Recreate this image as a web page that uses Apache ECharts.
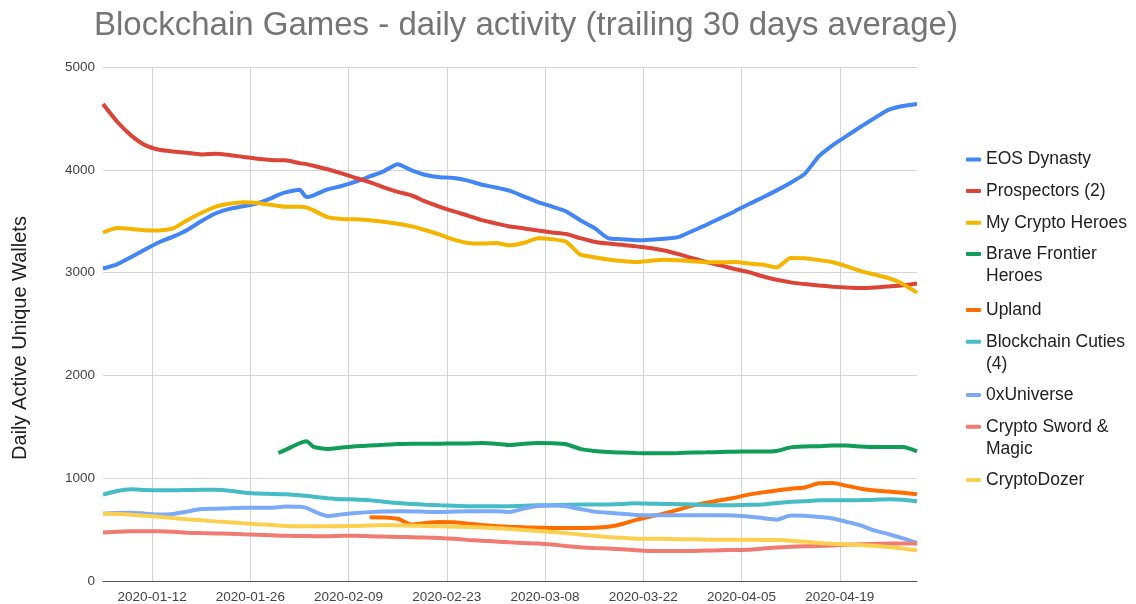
<!DOCTYPE html>
<html>
<head>
<meta charset="utf-8">
<script src="https://cdn.jsdelivr.net/npm/echarts@6/dist/echarts.min.js"></script>
<style>
html,body{margin:0;padding:0;background:#fff;}
#chart{width:1136px;height:604px;}
</style>
</head>
<body>
<div id="chart"></div>
<script>
// ---- data ----
const startDate = '2020-01-05';
const endDate = '2020-04-30';
const tickLabels = ['2020-01-12','2020-01-26','2020-02-09','2020-02-23','2020-03-08','2020-03-22','2020-04-05','2020-04-19'];
// sample days (offset in days from startDate)
const sampleDays = [0,2,4,6,8,10,12,14,16,18,20,22,24,25,26,28,29,30,32,34,36,38,40,42,44,46,48,50,52,54,56,58,60,62,64,66,68,70,72,74,76,78,80,82,84,86,88,90,92,94,96,98,100,102,104,106,108,110,112,114,116];

const eosDynasty = [3040,3080,3150,3225,3295,3350,3415,3500,3575,3620,3645,3675,3725,3757,3780,3805,3735,3752,3810,3842,3885,3935,3985,4055,3995,3950,3928,3920,3895,3855,3828,3795,3740,3685,3642,3595,3510,3435,3335,3325,3315,3320,3330,3345,3405,3465,3530,3595,3665,3730,3800,3875,3960,4130,4240,4330,4420,4505,4585,4620,4640];
const prospectors = [4640,4470,4335,4240,4195,4178,4165,4150,4157,4145,4125,4108,4095,4093,4092,4065,4055,4040,4005,3965,3920,3880,3830,3785,3750,3690,3640,3595,3555,3510,3478,3448,3430,3410,3390,3375,3335,3300,3282,3272,3255,3240,3215,3180,3140,3102,3070,3035,3005,2965,2930,2905,2888,2875,2863,2855,2850,2855,2865,2876,2893];
const myCryptoHeroes = [3390,3435,3425,3412,3410,3430,3510,3580,3640,3670,3685,3678,3660,3648,3640,3640,3635,3605,3540,3522,3518,3510,3495,3475,3450,3412,3370,3320,3288,3282,3288,3265,3290,3335,3325,3300,3175,3150,3128,3112,3103,3115,3125,3120,3110,3100,3100,3103,3088,3078,3050,3142,3140,3122,3100,3060,3015,2980,2945,2890,2805];
const braveFrontier = [null,null,null,null,null,null,null,null,null,null,null,null,null,1245,1275,1340,1360,1305,1285,1298,1310,1318,1325,1332,1336,1336,1336,1337,1338,1342,1335,1322,1335,1342,1340,1330,1285,1265,1255,1250,1245,1243,1242,1245,1250,1252,1255,1258,1260,1260,1265,1300,1308,1312,1318,1318,1308,1303,1304,1303,1262];
const upland = [null,null,null,null,null,null,null,null,null,null,null,null,null,null,null,null,null,null,null,null,null,620,618,605,550,565,575,572,558,545,535,528,522,518,516,515,516,518,528,555,595,628,658,695,733,762,785,810,840,862,880,898,910,950,953,925,898,880,870,858,843];
const blockchainCuties = [840,875,892,885,882,882,885,888,887,878,862,850,847,845,843,835,830,820,806,796,793,786,772,758,750,742,736,732,728,727,727,728,732,736,738,742,743,743,745,750,756,752,750,747,745,740,737,738,741,745,758,770,776,785,785,785,787,790,795,790,775];
const oxUniverse = [655,662,665,655,646,652,675,700,704,708,713,712,712,718,725,722,712,680,632,648,662,670,675,678,677,673,671,675,678,678,678,672,705,730,735,727,700,675,663,655,642,640,640,640,639,639,639,638,628,612,597,638,635,623,608,575,540,490,455,415,370];
const cryptoSwordMagic = [471,480,483,483,483,478,470,466,463,460,455,451,445,442,440,437,437,436,435,440,440,436,432,429,426,422,418,410,400,392,385,376,370,365,355,340,328,320,315,310,300,293,292,292,293,296,299,302,305,315,325,332,337,340,346,352,357,361,364,364,364];
const cryptoDozer = [655,652,645,635,624,612,600,590,580,572,562,553,545,540,536,532,532,532,532,533,535,540,542,542,538,535,532,528,525,520,514,507,497,487,477,465,452,440,428,420,412,412,410,407,405,403,402,402,402,400,398,392,382,370,362,356,350,342,330,315,299];

const seriesNames = ['EOS Dynasty','Prospectors (2)','My Crypto Heroes','Brave Frontier','Upland','Blockchain Cuties','0xUniverse','Crypto Sword &','CryptoDozer'];
const secondLines = ['', '', '', 'Heroes', '', '(4)', '', 'Magic', ''];
const seriesValues = [eosDynasty, prospectors, myCryptoHeroes, braveFrontier, upland, blockchainCuties, oxUniverse, cryptoSwordMagic, cryptoDozer];
const colors = ['#4285F4','#DB4437','#F4B400','#0F9D58','#FF6D01','#46BDC6','#7BAAF7','#F07B72','#FCD04F'];

// ---- build ----
const DAY = 86400000;
const t0 = Date.parse(startDate + 'T00:00:00Z');
const t1 = Date.parse(endDate + 'T00:00:00Z');
const fmt = t => new Date(t).toISOString().slice(0, 10);
const allDates = [];
for (let t = t0; t <= t1; t += DAY) allDates.push(fmt(t));
const sampleDates = sampleDays.map(d => fmt(t0 + d * DAY));

const FONT = 'Liberation Sans, Arial, sans-serif';
const legendCenters = [159.5, 191, 222.7, 254, 310, 341.7, 395, 426.7, 480];
const LEG_LH = 22;

const legends = seriesNames.map((n, i) => ({
  data: [n],
  orient: 'vertical',
  left: 966,
  top: legendCenters[i] - LEG_LH / 2,
  padding: 0,
  icon: 'roundRect',
  itemWidth: 15,
  itemHeight: 4,
  selectedMode: false,
  textStyle: { fontFamily: FONT, fontSize: 17.5, color: '#222', lineHeight: LEG_LH }
}));

const graphics = [];
secondLines.forEach((s, i) => {
  if (!s) return;
  graphics.push({
    type: 'text', left: 986, top: legendCenters[i] + LEG_LH / 2,
    style: { text: s, fontFamily: FONT, fontSize: 17.5, fill: '#222', lineHeight: LEG_LH }
  });
});
graphics.push({
  type: 'text', x: 20, y: 338, rotation: Math.PI / 2,
  style: { text: 'Daily Active Unique Wallets', fontFamily: FONT, fontSize: 20, fill: '#222', align: 'center', verticalAlign: 'middle' }
});

const isTick = (idx, val) => tickLabels.indexOf(val) >= 0;

const chart = echarts.init(document.getElementById('chart'), null, { renderer: 'canvas' });
chart.setOption({
  animation: false,
  backgroundColor: '#fff',
  title: {
    text: 'Blockchain Games - daily activity (trailing 30 days average)',
    left: 89, top: 4,
    textStyle: { fontFamily: FONT, fontSize: 33, fontWeight: 'normal', color: '#757575' }
  },
  grid: { left: 103, right: 219, top: 67, bottom: 23, containLabel: false },
  legend: legends,
  graphic: graphics,
  xAxis: {
    type: 'category',
    data: allDates,
    boundaryGap: false,
    axisLine: { show: true, lineStyle: { color: '#555', width: 1 } },
    axisTick: { show: false },
    axisLabel: { interval: isTick, fontFamily: FONT, fontSize: 13.5, color: '#444', margin: 9 },
    splitLine: { show: true, interval: isTick, lineStyle: { color: '#d4d4d4', width: 1 } }
  },
  yAxis: {
    type: 'value',
    min: 0, max: 5000, interval: 1000,
    axisLine: { show: false },
    axisTick: { show: false },
    axisLabel: { fontFamily: FONT, fontSize: 13.5, color: '#444', margin: 8, formatter: v => String(v) },
    splitLine: { lineStyle: { color: '#d4d4d4', width: 1 } }
  },
  series: seriesNames.map((n, i) => ({
    name: n,
    type: 'line',
    showSymbol: false,
    smooth: 0.2,
    color: colors[i],
    lineStyle: { width: 4, color: colors[i] },
    data: sampleDates.map((d, k) => [d, seriesValues[i][k]]).filter(p => p[1] !== null)
  }))
});
</script>
</body>
</html>
